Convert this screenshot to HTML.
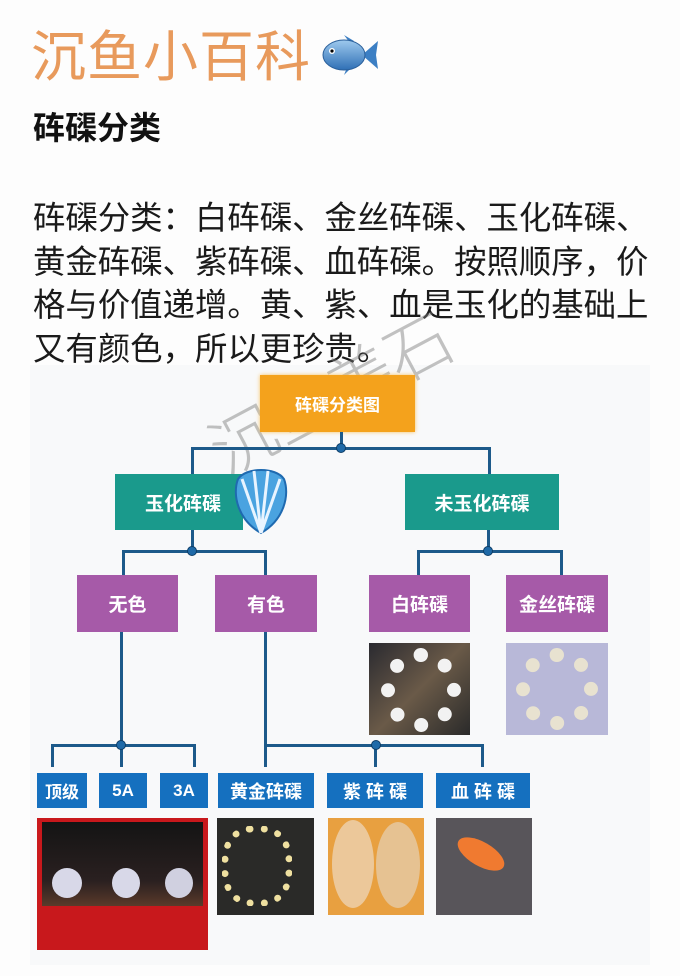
<!DOCTYPE html>
<html><head><meta charset="utf-8"><style>
*{margin:0;padding:0;box-sizing:border-box}
body{width:680px;height:976px;background:#fdfdfd;position:relative;overflow:hidden;font-family:"Liberation Sans","Noto Sans CJK SC",sans-serif}
.a{position:absolute}
.box{position:absolute;color:#fff;display:flex;align-items:center;justify-content:center;font-weight:bold}
.ln{position:absolute;background:#1d5a8a}
.dot{position:absolute;width:10px;height:10px;border-radius:50%;background:#1f6aa8;border:1px solid #0d3d66}
</style></head><body>
<div class="a" style="left:31px;top:22px;font-size:55px;color:#e89a5c;letter-spacing:1px;line-height:70px">沉鱼小百科</div>
<svg class="a" style="left:322px;top:33px" width="58" height="44" viewBox="0 0 58 44">
<defs><linearGradient id="f" x1="0" y1="0" x2="0" y2="1"><stop offset="0" stop-color="#9ec9ee"/><stop offset="1" stop-color="#2f6fb5"/></linearGradient></defs>
<path d="M40 22 L56 8 L54 22 L56 36 Z" fill="#3c7fc4"/>
<path d="M22 2 L32 8 L28 10 Z M22 42 L30 34 L26 32Z" fill="#3c7fc4"/>
<ellipse cx="22" cy="22" rx="21" ry="15" fill="url(#f)" stroke="#2a5f9a"/>
<circle cx="10" cy="18" r="3" fill="#fff"/><circle cx="10" cy="18" r="1.6" fill="#000"/>
</svg>
<div class="a" style="left:33px;top:108px;font-size:32px;font-weight:bold;color:#111;line-height:40px">砗磲分类</div>
<div class="a" style="left:33px;top:197px;width:660px;font-size:32.4px;line-height:43.7px;color:#1a1a1a">砗磲分类：白砗磲、金丝砗磲、玉化砗磲、<br>黄金砗磲、紫砗磲、血砗磲。按照顺序，价<br>格与价值递增。黄、紫、血是玉化的基础上<br>又有颜色，所以更珍贵。</div>
<div class="a" style="left:30px;top:365px;width:620px;height:600px;background:#f8f9fa"></div>
<div class="a" style="left:190px;top:410px;font-size:66px;color:rgba(120,120,120,0.45);transform:rotate(-28deg);transform-origin:left top;white-space:nowrap;font-weight:300">沉鱼美石</div>

<div class="box" style="left:260px;top:375px;width:155px;height:57px;background:#f4a21c;font-size:17px;box-shadow:0 0 4px #f7c060">砗磲分类图</div>
<div class="ln" style="left:340px;top:432px;width:3px;height:16px"></div>
<div class="ln" style="left:191px;top:447px;width:300px;height:3px"></div>
<div class="ln" style="left:191px;top:447px;width:3px;height:27px"></div>
<div class="ln" style="left:488px;top:447px;width:3px;height:27px"></div>
<div class="dot" style="left:336px;top:443px"></div>

<div class="box" style="left:115px;top:474px;width:128px;height:56px;background:#1a9a8c;font-size:19px;justify-content:flex-start;padding-left:30px">玉化砗磲</div>
<svg class="a" style="left:232px;top:465px" width="58" height="70" viewBox="0 0 58 70">
<path d="M29 68 C6 55 0 30 6 14 C14 2 44 2 52 14 C58 30 52 55 29 68Z" fill="#4aa3e0" stroke="#1f6ab0" stroke-width="2"/>
<path d="M29 68 L10 14 M29 68 L22 6 M29 68 L36 6 M29 68 L48 14" stroke="#e8f4ff" stroke-width="3"/>
</svg>
<div class="box" style="left:405px;top:474px;width:154px;height:56px;background:#1a9a8c;font-size:19px">未玉化砗磲</div>

<div class="ln" style="left:191px;top:530px;width:3px;height:21px"></div>
<div class="ln" style="left:122px;top:550px;width:144px;height:3px"></div>
<div class="ln" style="left:122px;top:550px;width:3px;height:25px"></div>
<div class="ln" style="left:264px;top:550px;width:3px;height:25px"></div>
<div class="dot" style="left:187px;top:546px"></div>
<div class="ln" style="left:487px;top:530px;width:3px;height:21px"></div>
<div class="ln" style="left:417px;top:550px;width:146px;height:3px"></div>
<div class="ln" style="left:417px;top:550px;width:3px;height:25px"></div>
<div class="ln" style="left:560px;top:550px;width:3px;height:25px"></div>
<div class="dot" style="left:483px;top:546px"></div>

<div class="box" style="left:77px;top:575px;width:101px;height:57px;background:#a65aa8;font-size:19px">无色</div>
<div class="box" style="left:215px;top:575px;width:102px;height:57px;background:#a65aa8;font-size:19px">有色</div>
<div class="box" style="left:369px;top:575px;width:101px;height:57px;background:#a65aa8;font-size:19px">白砗磲</div>
<div class="box" style="left:506px;top:575px;width:102px;height:57px;background:#a65aa8;font-size:19px">金丝砗磲</div>

<div class="a" style="left:369px;top:643px;width:101px;height:92px;background:linear-gradient(135deg,#2a2a30,#6a5a48 50%,#2a2a2a)"></div>
<div class="a" style="left:381px;top:648px;width:80px;height:84px;border-radius:50%;border:14px dotted #f2f2f2"></div>
<div class="a" style="left:506px;top:643px;width:102px;height:92px;background:#b8b8d8"></div>
<div class="a" style="left:516px;top:648px;width:82px;height:82px;border-radius:50%;border:14px dotted #e8e2d0"></div>

<div class="ln" style="left:120px;top:632px;width:3px;height:113px"></div>
<div class="ln" style="left:51px;top:744px;width:144px;height:3px"></div>
<div class="ln" style="left:51px;top:744px;width:3px;height:23px"></div>
<div class="ln" style="left:120px;top:744px;width:3px;height:23px"></div>
<div class="ln" style="left:193px;top:744px;width:3px;height:23px"></div>
<div class="dot" style="left:116px;top:740px"></div>
<div class="ln" style="left:264px;top:632px;width:3px;height:135px"></div>
<div class="ln" style="left:264px;top:744px;width:219px;height:3px"></div>
<div class="ln" style="left:374px;top:744px;width:3px;height:23px"></div>
<div class="ln" style="left:481px;top:744px;width:3px;height:23px"></div>
<div class="dot" style="left:371px;top:740px"></div>

<div class="box" style="left:37px;top:773px;width:50px;height:35px;background:#1570bf;font-size:17px">顶级</div>
<div class="box" style="left:99px;top:773px;width:48px;height:35px;background:#1570bf;font-size:17px">5A</div>
<div class="box" style="left:160px;top:773px;width:48px;height:35px;background:#1570bf;font-size:17px">3A</div>
<div class="box" style="left:218px;top:773px;width:96px;height:35px;background:#1570bf;font-size:18px">黄金砗磲</div>
<div class="box" style="left:327px;top:773px;width:96px;height:35px;background:#1570bf;font-size:18px">紫 砗 磲</div>
<div class="box" style="left:436px;top:773px;width:94px;height:35px;background:#1570bf;font-size:18px">血 砗 磲</div>

<div class="a" style="left:37px;top:818px;width:171px;height:132px;background:#c8181c"></div>
<div class="a" style="left:42px;top:822px;width:161px;height:84px;background:linear-gradient(#141414,#2a2020 70%,#5a3a2a)"></div>
<div class="a" style="left:52px;top:868px;width:30px;height:30px;border-radius:50%;background:#d8d8e8"></div>
<div class="a" style="left:112px;top:868px;width:28px;height:30px;border-radius:50%;background:#d8d8e8"></div>
<div class="a" style="left:165px;top:868px;width:28px;height:30px;border-radius:50%;background:#d0d0e0"></div>
<div class="a" style="left:217px;top:818px;width:97px;height:97px;background:#2a2a28"></div>
<div class="a" style="left:222px;top:826px;width:70px;height:80px;border-radius:40%;border:7px dotted #efe0a0"></div>
<div class="a" style="left:328px;top:818px;width:96px;height:97px;background:#e8a040"></div>
<div class="a" style="left:332px;top:820px;width:42px;height:88px;border-radius:50%;background:#ecc89a"></div>
<div class="a" style="left:376px;top:822px;width:44px;height:86px;border-radius:50%;background:#e6c292"></div>
<div class="a" style="left:436px;top:818px;width:96px;height:97px;background:#58555a"></div>
<div class="a" style="left:455px;top:842px;width:52px;height:24px;border-radius:50%;background:#f07a30;transform:rotate(30deg)"></div>
</body></html>
